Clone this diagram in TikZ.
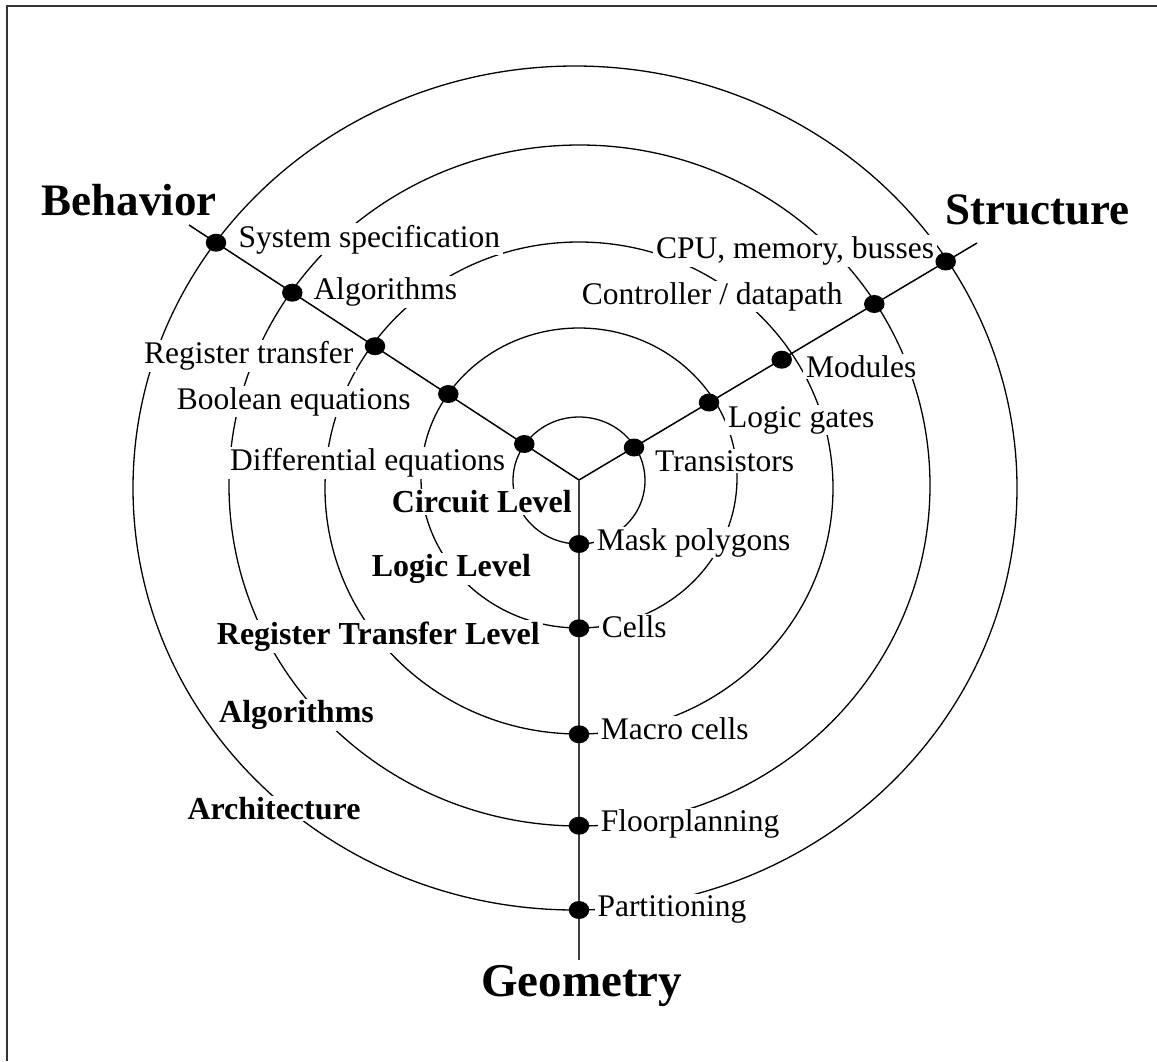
\documentclass[tikz,border=0pt]{standalone}
\usepackage{fontspec}
\setmainfont{Liberation Serif}
\usetikzlibrary{shapes.geometric}
\begin{document}
\begin{tikzpicture}[x=1pt,y=-1pt,
  lbl/.style={fill=white, inner xsep=3pt, inner ysep=1.5pt, anchor=base west, xshift=-3pt,
              font=\fontsize{31.5}{36}\selectfont},
  lvl/.style={lbl, font=\fontsize{32}{36}\selectfont\bfseries},
  big/.style={anchor=base west, inner sep=0pt, font=\fontsize{45}{52}\selectfont\bfseries},
  ring/.style={line width=1.3pt},
  arm/.style={line width=1.5pt},
  vert/.style={line width=2pt, black!75},
  frame/.style={line width=1.6pt, black!80},
  dotn/.style={ellipse, fill=black, inner sep=0pt, minimum width=20.5pt, minimum height=18pt}
]
\useasboundingbox (0,0) rectangle (1157,1061);
% frame
\draw[frame] (7,1061) -- (7,6) -- (1157,6);

% rings
\draw[ring] (575,488)   ellipse [x radius=442pt,   y radius=422pt];
\draw[ring] (579.5,485.5) ellipse [x radius=350.5pt, y radius=340.5pt];
\draw[ring] (579,488)   ellipse [x radius=254pt,   y radius=246pt];
\draw[ring] (579,478)   ellipse [x radius=158pt,   y radius=150pt];
\draw[ring] (579,480.5) ellipse [x radius=66pt,    y radius=63.5pt];

% behaviour labels
\node[lbl] (tsys)  at (238.3,247)   {System specification};
\node[lbl] (talg)  at (313.3,299.3) {Algorithms};
\node[lbl] (trt)   at (144,363.3)   {Register transfer};
\node[lbl] (tbool) at (176.7,409)   {Boolean equations};
\node[lbl] (tdiff) at (230,470.7)   {Differential equations};
% structure labels
\node[lbl] (tcpu)  at (656,258.3)   {CPU, memory, busses};
\node[lbl] (tctrl) at (581.7,304)   {Controller / datapath};
\node[lbl] (tmod)  at (806,377.3)   {Modules};
\node[lbl] (tlg)   at (728,427)     {Logic gates};
\node[lbl] (ttr)   at (655,471)     {Transistors};
% geometry labels
\node[lbl] (tmask) at (596.7,550)   {Mask polygons};
\node[lbl] (tcell) at (601.7,637.3) {Cells};
\node[lbl] (tmac)  at (600.7,739.3) {Macro cells};
\node[lbl] (tfloor) at (600.7,831.7) {Floorplanning};
\node[lbl] (tpart) at (597.3,916.7) {Partitioning};
% level labels
\node[lvl] (lcirc) at (391.7,512.7) {Circuit Level};
\node[lvl] (llog)  at (371.7,576.7) {Logic Level};
\node[lvl] (lrtl)  at (216.7,644.3) {Register Transfer Level};
\node[lvl] (lalg)  at (219,722.7)   {Algorithms};
\node[lvl] (larch) at (187.3,819.3) {Architecture};

% axes
\coordinate (J) at (579,480);
\coordinate (Lend) at (189,225);
\coordinate (Rend) at (977,243);
\coordinate (Bend) at (579,960);
\draw[arm] (J) -- (Lend);
\draw[arm] (J) -- (Rend);
\draw[vert] (J) -- (Bend);

% dots
\node[dotn] (b1) at (216,242.7) {};
\node[dotn] (b2) at (292.3,292.7) {};
\node[dotn] (b3) at (375,346.2) {};
\node[dotn] (b4) at (448.3,394) {};
\node[dotn] (b5) at (524.3,444) {};
\node[dotn] (s1) at (945.7,261.5) {};
\node[dotn] (s2) at (874.3,304) {};
\node[dotn] (s3) at (781.7,359.7) {};
\node[dotn] (s4) at (709,402.5) {};
\node[dotn] (s5) at (634,447.5) {};
\node[dotn] (g1) at (579,910) {};
\node[dotn] (g2) at (579,825.7) {};
\node[dotn] (g3) at (579,734.3) {};
\node[dotn] (g4) at (579,628.3) {};
\node[dotn] (g5) at (579,544) {};

% domain labels
\node[big] (beh) at (41.7,215) {Behavior};
\node[big] (str) at (945,224)  {Structure};
\node[big, font=\fontsize{47}{54}\selectfont\bfseries] (geo) at (481,996)  {Geometry};
\end{tikzpicture}
\end{document}
